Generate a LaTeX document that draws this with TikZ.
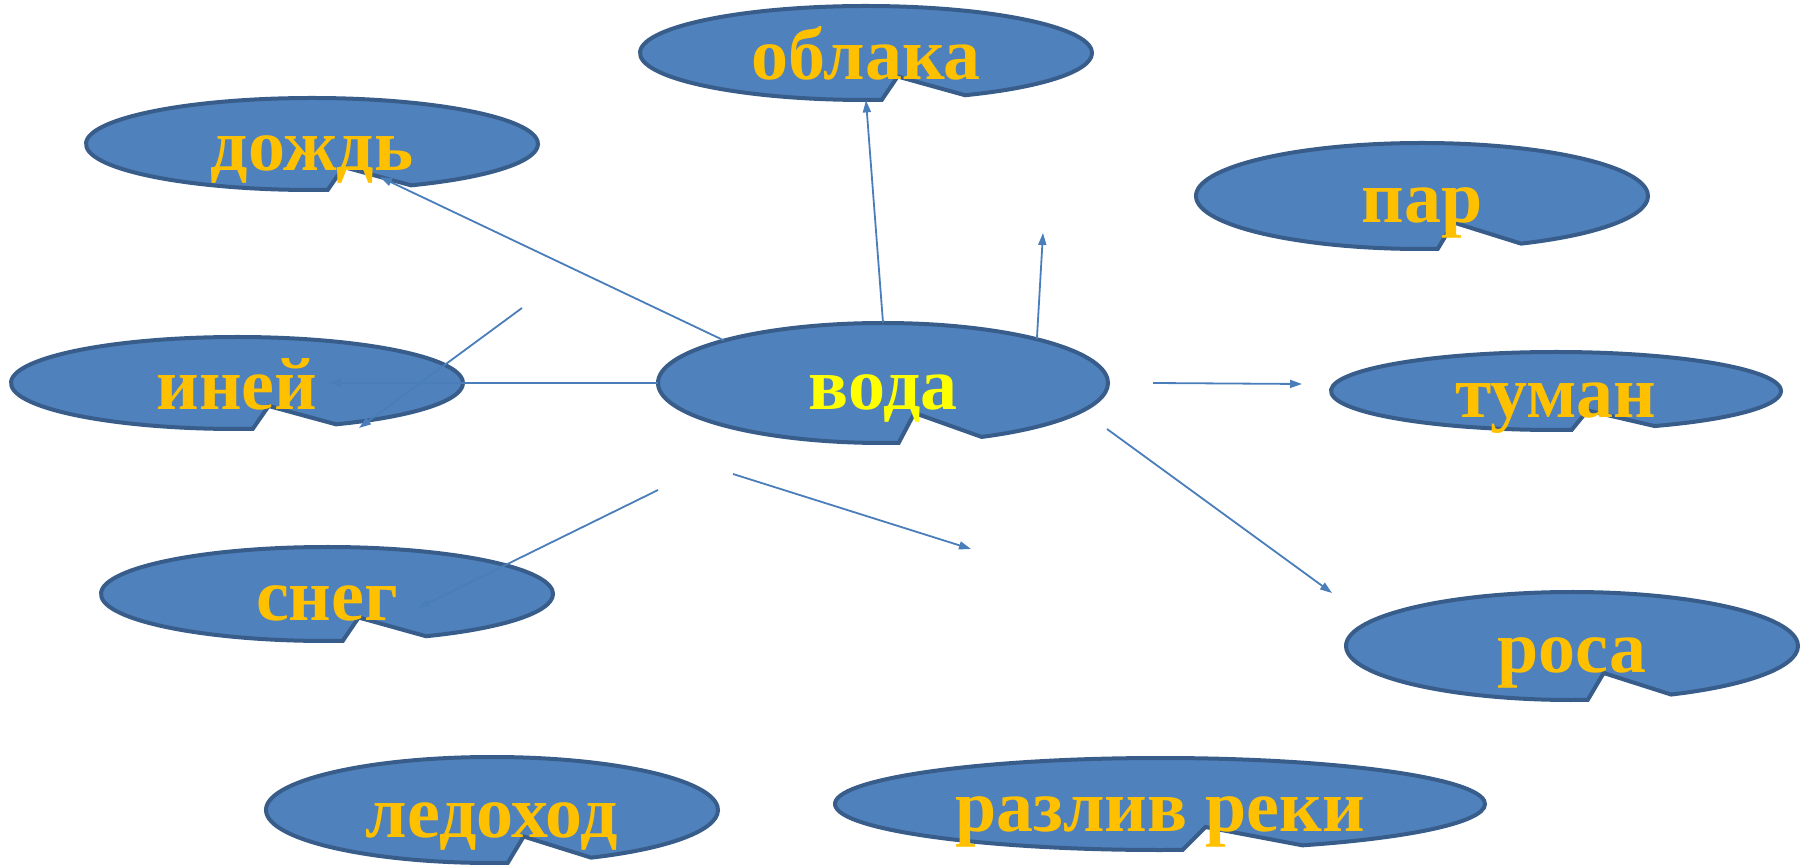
\documentclass[tikz,border=0pt]{standalone}
\usepackage{fontspec}
\setmainfont{Liberation Serif}
\usetikzlibrary{arrows.meta,shapes.geometric}

\definecolor{blobfill}{HTML}{4F81BD}
\definecolor{blobline}{HTML}{385D8A}
\definecolor{linkblue}{HTML}{4A7EBB}
\definecolor{gold}{HTML}{FFC000}
\definecolor{lemon}{HTML}{FFFF00}

% name, cx, cy, rx, ry, colour, text
\newcommand{\blob}[7]{%
  \filldraw[fill=blobfill,draw=blobline,line width=2pt,line join=miter]
    (#2,#3) ++(86:#4 and #5)
    arc[start angle=86,end angle=424,x radius=#4,y radius=#5]
    -- (#2+0.14*#4,#3+0.5*#5) -- cycle;
  \node[word,text=#6,minimum width=#4pt,minimum height=#5pt] (#1) at (#2,#3)
    {\raisebox{-13.5pt}[0pt][0pt]{#7}};
}

\begin{document}
\begin{tikzpicture}[x=0.5pt,y=-0.5pt,
    word/.style={shape=ellipse,inner sep=0pt,font=\bfseries\fontsize{37}{40}\selectfont},
    link/.style={draw=linkblue,line width=0.9pt,-{Triangle[length=6pt,width=4pt]}}]
        \useasboundingbox (0,0) rectangle (1810,865);

        \blob{oblaka}{866}{53}{226}{47}{gold}{облака}
        \blob{dozhd}{312}{144}{226}{46}{gold}{дождь}
        \blob{par}{1422}{196}{226}{53}{gold}{пар}
        \blob{voda}{883}{383}{225}{60}{lemon}{вода}
        \blob{iney}{237}{383}{226}{46}{gold}{иней}
        \blob{tuman}{1556}{391}{225}{39}{gold}{туман}
        \blob{sneg}{327}{594}{226}{47}{gold}{снег}
        \blob{rosa}{1572}{646}{226}{54}{gold}{роса}
        \blob{ledohod}{492}{810}{226}{53}{gold}{ледоход}
        \blob{razliv}{1160}{804}{325}{46}{gold}{разлив реки}

        \coordinate (A) at (380,177);
        \coordinate (B) at (329,383);
        \coordinate (C) at (522,308);
        \coordinate (D) at (359,428);
        \coordinate (E) at (658,490);
        \coordinate (F) at (418,608);
        \coordinate (G) at (733,474);
        \coordinate (H) at (971,549);
        \coordinate (I) at (1107,429);
        \coordinate (J) at (1332,593);
        \coordinate (K) at (1153,383);
        \coordinate (L) at (1302,384);
        \coordinate (M) at (1043,233);

        \draw[link] (voda.north) -- (oblaka.south);
        \draw[link] (voda.165.5) -- (A);
        \draw[link] (voda.west)  -- (B);
        \draw[link] (C) -- (D);
        \draw[link] (E) -- (F);
        \draw[link] (G) -- (H);
        \draw[link] (I) -- (J);
        \draw[link] (K) -- (L);
        \draw[link] (voda.16) -- (M);
    \end{tikzpicture}
\end{document}
